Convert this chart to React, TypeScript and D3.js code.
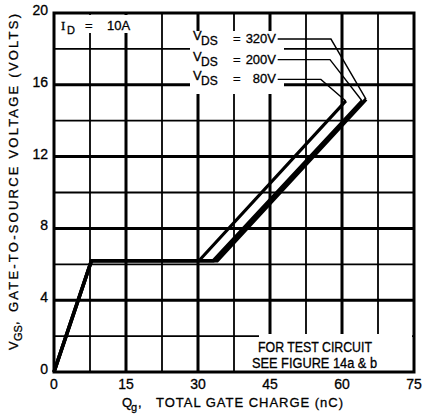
import React from "react";
import * as d3 from "d3";

const W = 426;
const H = 418;

// Axis ticks
const xTickLabels = [0, 15, 30, 45, 60, 75];
const yTickLabels = [0, 4, 8, 12, 16, 20];
const xMajorGrid = [15, 30, 45, 60];
const xMinorGrid = [7.5, 22.5, 37.5, 52.5, 67.5];
const yMajorGrid = [4, 8, 12, 16];
const yMinorGrid = [2, 6, 10, 14, 18];

// Series: gate charge (nC) vs gate-source voltage (V)
const seriesNames = ["320V", "200V", "80V"];
const qg80 = [0, 7.8, 30.2, 60.8];
const vgs80 = [0, 6.2, 6.2, 15.1];
const qg200 = [0, 7.8, 33.2, 64.2];
const vgs200 = [0, 6.2, 6.2, 15.1];
const qg320 = [0, 7.8, 34.0, 65.0];
const vgs320 = [0, 6.2, 6.2, 15.2];

// Leader elbows (data units) for legend labels 320V, 200V, 80V
const leaderStartQ = [46.6, 46.6, 46.6];
const leaderElbowQ = [57.7, 57.5, 55.6];
const leaderRowV = [18.55, 17.4, 16.3];

export default function App() {
  const x = d3.scaleLinear().domain([0, 75]).range([54, 414]);
  const y = d3.scaleLinear().domain([0, 20]).range([372, 13]);
  const line = d3
    .line<[number, number]>()
    .x((d) => x(d[0]))
    .y((d) => y(d[1]));
  const zip = (a: number[], b: number[]) => a.map((v, i) => [v, b[i]] as [number, number]);

  const series = [
    { q: qg320, v: vgs320, w: 3.6 },
    { q: qg200, v: vgs200, w: 3.6 },
    { q: qg80, v: vgs80, w: 3.2 },
  ];

  const font = "'Liberation Sans', Arial, sans-serif";
  const [x0, x1] = x.range();
  const [yb, yt] = y.range();

  return (
    <svg
      width={W}
      height={H}
      style={{ position: "absolute", left: 0, top: 0, background: "#fff" }}
      fontFamily={font}
    >
      <rect x={0} y={0} width={W} height={H} fill="#fff" />
      {/* grid */}
      {xMinorGrid.map((d) => (
        <line key={"xm" + d} x1={x(d)} x2={x(d)} y1={yt} y2={yb} stroke="#000" strokeWidth={1.8} />
      ))}
      {yMinorGrid.map((d) => (
        <line key={"ym" + d} x1={x0} x2={x1} y1={y(d)} y2={y(d)} stroke="#000" strokeWidth={1.8} />
      ))}
      {xMajorGrid.map((d) => (
        <line key={"xM" + d} x1={x(d)} x2={x(d)} y1={yt} y2={yb} stroke="#000" strokeWidth={3} />
      ))}
      {yMajorGrid.map((d) => (
        <line key={"yM" + d} x1={x0} x2={x1} y1={y(d)} y2={y(d)} stroke="#000" strokeWidth={3} />
      ))}

      {/* white label boxes */}
      <rect x={x0 + 2} y={yt + 2} width={84} height={18} fill="#fff" />
      <rect x={190} y={31} width={94} height={63} fill="#fff" />
      <rect x={259} y={334} width={x1 - 261} height={yb - 335} fill="#fff" />

      {/* border */}
      <rect x={x0} y={yt} width={x1 - x0} height={yb - yt} fill="none" stroke="#000" strokeWidth={3} />

      {/* curves */}
      {series.map((s, i) => (
        <path
          key={i}
          d={line(zip(s.q, s.v)) || ""}
          fill="none"
          stroke="#000"
          strokeWidth={s.w}
          strokeLinejoin="miter"
        />
      ))}

      {/* leaders */}
      {series.map((s, i) => {
        const n = s.q.length - 1;
        const pts: [number, number][] = [
          [leaderStartQ[i], leaderRowV[i]],
          [leaderElbowQ[i], leaderRowV[i]],
          [s.q[n], s.v[n]],
        ];
        return (
          <path key={"ld" + i} d={line(pts) || ""} fill="none" stroke="#000" strokeWidth={1.4} />
        );
      })}

      {/* legend labels */}
      {seriesNames.map((name, i) => {
        const cy = y(leaderRowV[i]);
        return (
          <g key={"lg" + i} fontSize={13} fill="#000" stroke="#000" strokeWidth={0.3}>
            <text x={193} y={cy + 1}>
              V
            </text>
            <text x={201} y={cy + 6} fontSize={12}>
              DS
            </text>
            <text x={233} y={cy + 4}>
              =
            </text>
            <text x={276} y={cy + 4} textAnchor="end">
              {name}
            </text>
          </g>
        );
      })}

      {/* ID label */}
      <g fill="#000" stroke="#000" strokeWidth={0.3}>
        <text x={61} y={30} fontSize={13} fontFamily="'Liberation Serif', serif">
          I
        </text>
        <text x={67} y={34} fontSize={11}>
          D
        </text>
        <text x={85} y={30} fontSize={13}>
          =
        </text>
        <text x={107} y={30} fontSize={13}>
          10A
        </text>
      </g>

      {/* test circuit note */}
      <g fill="#000" stroke="#000" strokeWidth={0.3} fontSize={14}>
        <text x={258} y={352} textLength={114} lengthAdjust="spacingAndGlyphs">
          FOR TEST CIRCUIT
        </text>
        <text x={252} y={368} textLength={125} lengthAdjust="spacingAndGlyphs">
          SEE FIGURE 14a &amp; b
        </text>
      </g>

      {/* tick labels */}
      <g fontSize={14} fill="#000" stroke="#000" strokeWidth={0.3}>
        {xTickLabels.map((d) => (
          <text key={"xt" + d} x={x(d)} y={389} textAnchor="middle">
            {d}
          </text>
        ))}
        {yTickLabels.map((d) => (
          <text key={"yt" + d} x={48} y={y(d) + 2} textAnchor="end">
            {d}
          </text>
        ))}
      </g>

      {/* x title */}
      <g fill="#000" stroke="#000" strokeWidth={0.3}>
        <text x={122} y={407} fontSize={13}>
          Q
        </text>
        <text x={131} y={411} fontSize={11}>
          g
        </text>
        <text x={138} y={407} fontSize={13}>
          ,
        </text>
        <text x={156} y={407} fontSize={13} textLength={187} lengthAdjust="spacing">
          TOTAL GATE CHARGE (nC)
        </text>
      </g>

      {/* y title */}
      <g transform="translate(18,350) rotate(-90)" fill="#000" stroke="#000" strokeWidth={0.3}>
        <text x={0} y={0} fontSize={13}>
          V
        </text>
        <text x={9} y={4} fontSize={11}>
          GS
        </text>
        <text x={25} y={0} fontSize={13}>
          ,
        </text>
        <text x={38} y={0} fontSize={13} textLength={298} lengthAdjust="spacing">
          GATE-TO-SOURCE VOLTAGE (VOLTS)
        </text>
      </g>
    </svg>
  );
}
